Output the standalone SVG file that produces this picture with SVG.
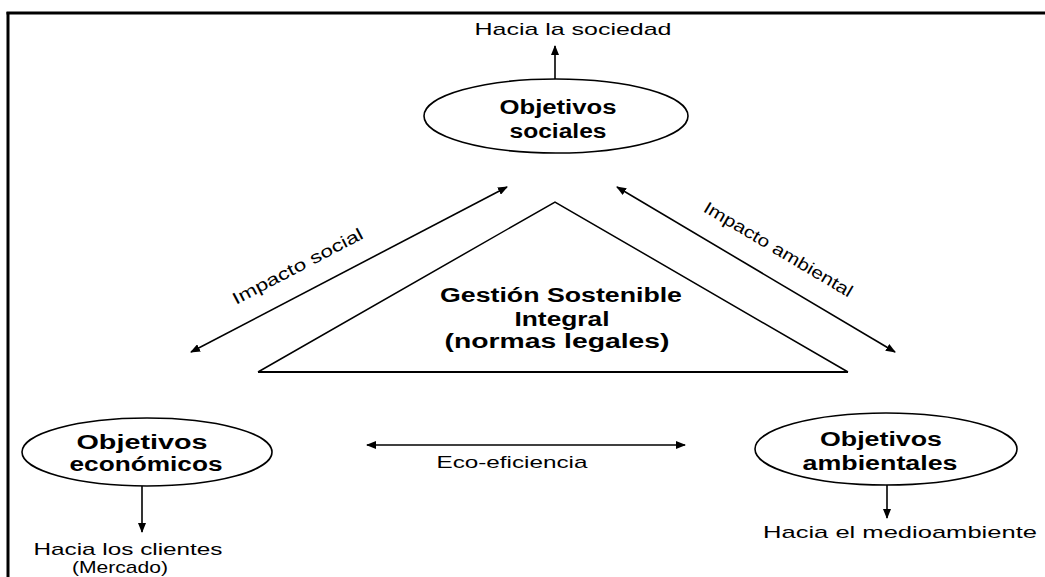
<svg xmlns="http://www.w3.org/2000/svg" width="1045" height="577" viewBox="0 0 1045 577">
<defs>
<style>
.node ellipse{fill:#fff;stroke:#000;stroke-width:1.6}
.bt{font-family:"Liberation Sans",Arial,sans-serif;font-weight:bold;font-size:20px;fill:#000;text-anchor:middle}
.lt{font-family:"Liberation Sans",Arial,sans-serif;font-size:17px;fill:#000;text-anchor:middle}
.con line,.con polyline{stroke:#000;fill:none;stroke-width:1.6}
</style>
<marker id="ah" viewBox="0 0 10 8" refX="9" refY="4" markerWidth="10" markerHeight="8" markerUnits="userSpaceOnUse" orient="auto-start-reverse">
<path d="M0,0 L10,4 L0,8 Z" fill="#000"/>
</marker>
</defs>
<rect width="1045" height="577" fill="#fff"/>
<g id="frame">
<line x1="6.5" y1="13" x2="1045" y2="13" stroke="#000" stroke-width="3"/>
<line x1="8" y1="12" x2="8" y2="577" stroke="#000" stroke-width="3"/>
</g>
<g class="con" id="connectors">
<line x1="555" y1="80" x2="555" y2="46" marker-end="url(#ah)" stroke-width="2"/>
<line x1="142" y1="486" x2="142" y2="532" marker-end="url(#ah)" stroke-width="2"/>
<line x1="887" y1="485" x2="887" y2="518" marker-end="url(#ah)"/>
<line x1="191" y1="352" x2="507" y2="187" marker-start="url(#ah)" marker-end="url(#ah)"/>
<line x1="617" y1="187" x2="895" y2="352" marker-start="url(#ah)" marker-end="url(#ah)"/>
<line x1="367" y1="445" x2="685" y2="445" marker-start="url(#ah)" marker-end="url(#ah)"/>
</g>
<g id="triangle">
<polyline points="258,372 555,202 848,372" fill="none" stroke="#000" stroke-width="1.5"/>
<line x1="258" y1="372" x2="848" y2="372" stroke="#000" stroke-width="2.2"/>
<text class="bt" x="561" y="302" textLength="242" lengthAdjust="spacingAndGlyphs">Gestión Sostenible</text>
<text class="bt" x="562" y="326" textLength="95" lengthAdjust="spacingAndGlyphs">Integral</text>
<text class="bt" x="557" y="348" textLength="225" lengthAdjust="spacingAndGlyphs">(normas legales)</text>
</g>
<g id="sociales" class="node">
<ellipse cx="556" cy="116" rx="132" ry="37"/>
<text class="bt" x="558" y="114" textLength="117" lengthAdjust="spacingAndGlyphs">Objetivos</text>
<text class="bt" x="558" y="138" textLength="97" lengthAdjust="spacingAndGlyphs">sociales</text>
<text class="lt" x="573" y="35" textLength="197" lengthAdjust="spacingAndGlyphs">Hacia la sociedad</text>
</g>
<g id="economicos" class="node">
<ellipse cx="147" cy="452" rx="125" ry="34"/>
<text class="bt" x="142" y="449" textLength="131" lengthAdjust="spacingAndGlyphs">Objetivos</text>
<text class="bt" x="146" y="471" textLength="153" lengthAdjust="spacingAndGlyphs">económicos</text>
<text class="lt" x="128" y="555" textLength="189" lengthAdjust="spacingAndGlyphs">Hacia los clientes</text>
<text class="lt" x="120" y="573" textLength="96" lengthAdjust="spacingAndGlyphs">(Mercado)</text>
</g>
<g id="ambientales" class="node">
<ellipse cx="886" cy="449" rx="131" ry="36"/>
<text class="bt" x="881" y="446" textLength="122" lengthAdjust="spacingAndGlyphs">Objetivos</text>
<text class="bt" x="880" y="470" textLength="155" lengthAdjust="spacingAndGlyphs">ambientales</text>
<text class="lt" x="900" y="538" textLength="274" lengthAdjust="spacingAndGlyphs">Hacia el medioambiente</text>
</g>
<g id="labels">
<text class="lt" transform="translate(298,267) rotate(-27.6)" x="0" y="5" textLength="145" lengthAdjust="spacingAndGlyphs">Impacto social</text>
<text class="lt" transform="translate(778,250) rotate(30.7)" x="0" y="5" textLength="170" lengthAdjust="spacingAndGlyphs">Impacto ambiental</text>
<text class="lt" x="512" y="468" textLength="151" lengthAdjust="spacingAndGlyphs">Eco-eficiencia</text>
</g>
</svg>
